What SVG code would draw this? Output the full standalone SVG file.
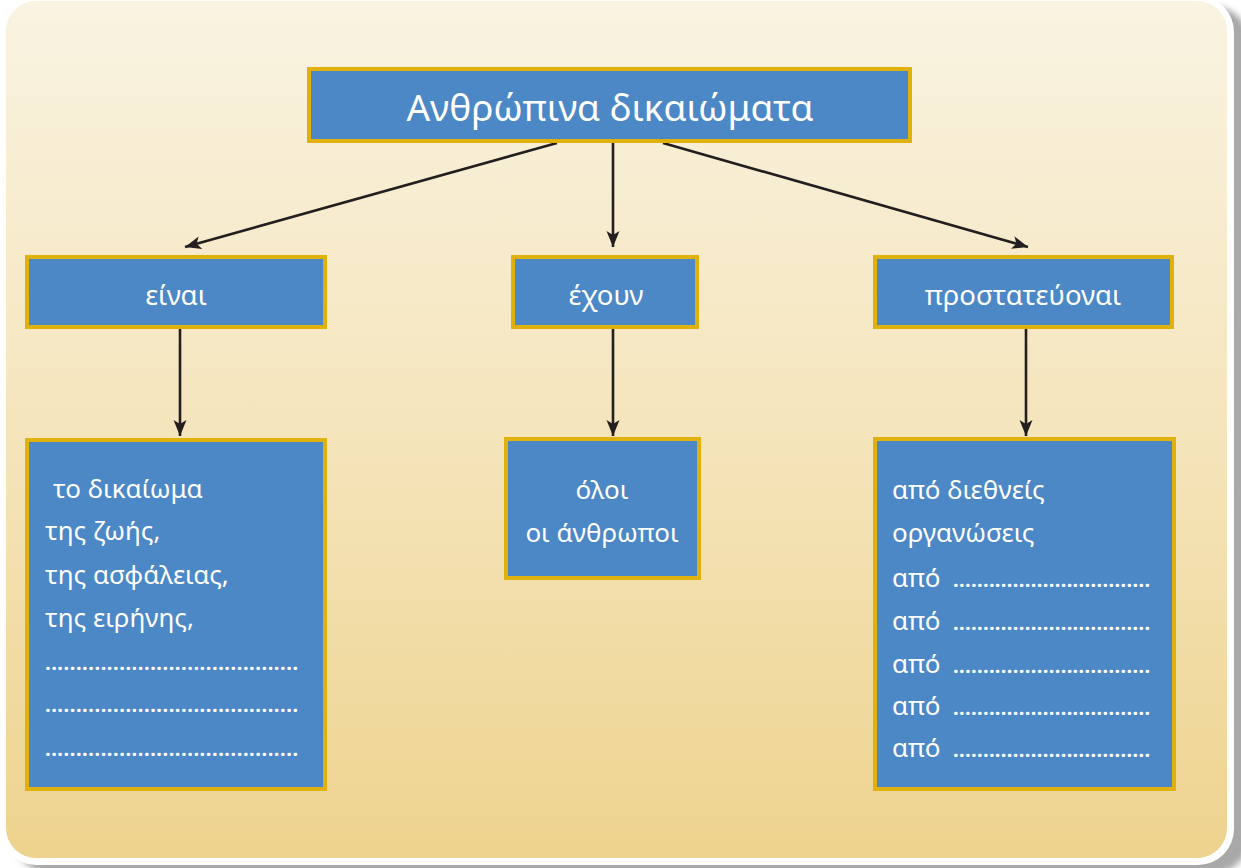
<svg xmlns="http://www.w3.org/2000/svg" width="1241" height="868" viewBox="0 0 1241 868">
  <defs>
    <linearGradient id="bg" x1="0" y1="0" x2="0" y2="1">
      <stop offset="0" stop-color="#F9F3E1"/>
      <stop offset="0.5" stop-color="#F5E5BC"/>
      <stop offset="1" stop-color="#EED38E"/>
    </linearGradient>
    <filter id="sh" x="-5%" y="-5%" width="110%" height="110%">
      <feGaussianBlur stdDeviation="3"/>
    </filter>
    <marker id="ah" markerUnits="userSpaceOnUse" markerWidth="18" markerHeight="14" refX="16" refY="6.5" orient="auto">
      <path d="M0,0 L16,6.5 L0,13 L4,6.5 Z" fill="#231F20"/>
    </marker>
  </defs>
  <style>
    .box { fill: #4C87C6; stroke: #E0B00C; stroke-width: 4; }
    .t { font-family: "Noto Sans", "DejaVu Sans", sans-serif; fill: #FFFFFF; font-size: 26px; }
    .lab { font-size: 27.5px; }
    .title { font-size: 37px; }
    .mid { text-anchor: middle; }
    .dots { font-family: "Noto Sans", "DejaVu Sans", sans-serif; fill: #FFFFFF; font-size: 20px; font-weight: bold; }
    .conn { stroke: #231F20; stroke-width: 2.6; fill: none; marker-end: url(#ah); }
  </style>

  <rect x="0" y="0" width="1241" height="868" fill="#FFFFFF"/>
  <rect x="14" y="6" width="1236" height="868" rx="38" fill="#A8A8A8" filter="url(#sh)"/>
  <rect x="0" y="-4" width="1234" height="869" rx="36" fill="#FFFFFF"/>
  <rect x="6" y="1" width="1221" height="857" rx="30" fill="url(#bg)"/>

  <g id="connectors">
    <line class="conn" x1="557" y1="143" x2="185" y2="247"/>
    <line class="conn" x1="613" y1="143" x2="613" y2="247"/>
    <line class="conn" x1="663" y1="143" x2="1028" y2="247"/>
    <line class="conn" x1="180" y1="329" x2="180" y2="436"/>
    <line class="conn" x1="613" y1="329" x2="613" y2="436"/>
    <line class="conn" x1="1026" y1="329" x2="1026" y2="436"/>
  </g>

  <g id="title">
    <rect class="box" x="309" y="69" width="601" height="72"/>
    <text class="t title mid" x="610" y="121">Ανθρώπινα δικαιώματα</text>
  </g>

  <g id="einai">
    <rect class="box" x="27" y="257" width="298" height="70"/>
    <text class="t lab mid" x="176" y="305">είναι</text>
  </g>

  <g id="exoun">
    <rect class="box" x="513" y="257" width="184" height="70"/>
    <text class="t lab mid" x="606" y="305">έχουν</text>
  </g>

  <g id="prostateuontai">
    <rect class="box" x="875" y="257" width="297" height="70"/>
    <text class="t lab mid" x="1023" y="305">προστατεύοναι</text>
  </g>

  <g id="dikaiomata-list">
    <rect class="box" x="27" y="440" width="298" height="349"/>
    <text class="t" x="53" y="498">το δικαίωμα</text>
    <text class="t" x="45" y="540">της ζωής,</text>
    <text class="t" x="45" y="584">της ασφάλειας,</text>
    <text class="t" x="45" y="627">της ειρήνης,</text>
    <text class="dots" x="45" y="670" textLength="253" lengthAdjust="spacing">.........................................</text>
    <text class="dots" x="45" y="712" textLength="253" lengthAdjust="spacing">.........................................</text>
    <text class="dots" x="45" y="756" textLength="253" lengthAdjust="spacing">.........................................</text>
  </g>

  <g id="anthropoi">
    <rect class="box" x="506" y="439" width="193" height="139"/>
    <text class="t mid" x="602" y="499">όλοι</text>
    <text class="t mid" x="602" y="542">οι άνθρωποι</text>
  </g>

  <g id="organoseis">
    <rect class="box" x="875" y="439" width="299" height="350"/>
    <text class="t" x="892" y="499">από διεθνείς</text>
    <text class="t" x="892" y="542">οργανώσεις</text>
    <text class="t" x="892" y="587">από</text>
    <text class="t" x="892" y="630">από</text>
    <text class="t" x="892" y="673">από</text>
    <text class="t" x="892" y="715">από</text>
    <text class="t" x="892" y="757">από</text>
    <text class="dots" x="953" y="587" textLength="197" lengthAdjust="spacing">.................................</text>
    <text class="dots" x="953" y="630" textLength="197" lengthAdjust="spacing">.................................</text>
    <text class="dots" x="953" y="673" textLength="197" lengthAdjust="spacing">.................................</text>
    <text class="dots" x="953" y="715" textLength="197" lengthAdjust="spacing">.................................</text>
    <text class="dots" x="953" y="757" textLength="197" lengthAdjust="spacing">.................................</text>
  </g>
</svg>
